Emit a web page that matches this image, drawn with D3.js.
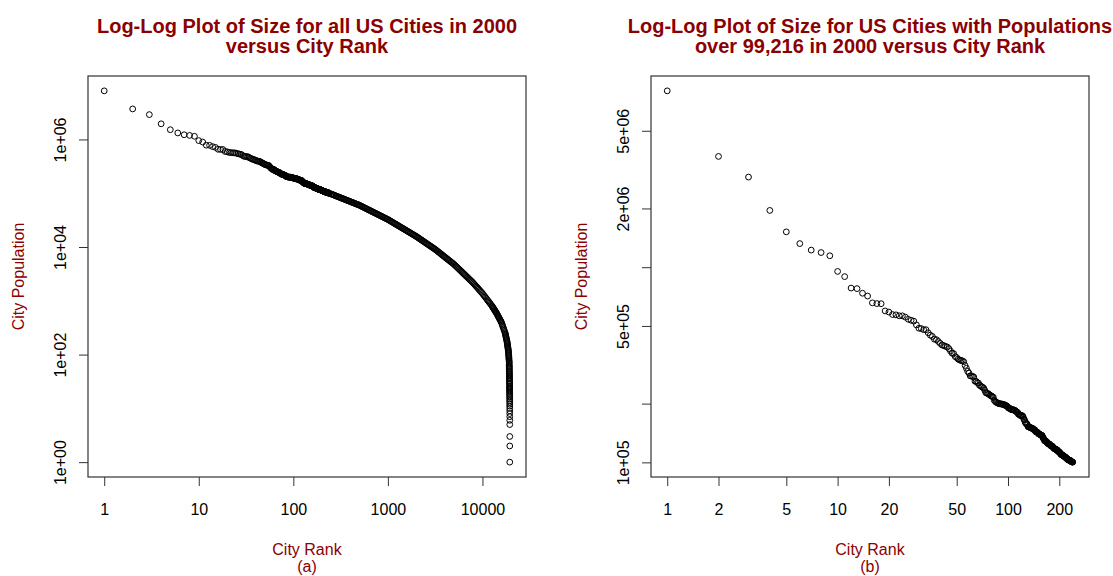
<!DOCTYPE html>
<html>
<head>
<meta charset="utf-8">
<script src="https://cdn.jsdelivr.net/npm/d3@7"></script>
<style>
  body { margin: 0; background: #fff; }
  svg text { font-family: "Liberation Sans", Arial, sans-serif; }
</style>
</head>
<body>
<div id="chart"></div>
<script>
(function () {

  // populations of the largest US cities in 2000, biggest first (rank = position + 1)
  const topCityPops = [
    8008278, 3694820, 2896016, 1953631, 1517550, 1321045, 1223400, 1188580, 1144646, 951270,
    894943, 781870, 776733, 735617, 711470, 656562, 651154, 650100, 596974, 589141,
    572059, 569891, 563662, 563374, 554636, 540828, 534694, 529121, 506132, 486699,
    484674, 478434, 478403, 461522, 448607, 441545, 427652, 425257, 416474, 407018,
    399484, 396375, 393049, 390007, 382618, 371657, 362470, 360890, 348189, 344284,
    337977, 334563, 332969, 331285, 328014, 313619, 303447, 292648, 287151, 277454,
    276393, 276093, 273546, 260512, 260283, 256231, 255166, 248232, 247057, 243771,
    242820, 240055, 234403, 227818, 226419, 225581, 223891, 222030, 219773, 218812,
    217074, 215768, 208054, 205727, 203413, 202705, 201568, 200145, 199775, 199564,
    199184, 198915, 198682, 197800, 197790, 196086, 195629, 194973, 193556, 191615,
    189594, 189453, 188856, 187035, 186291, 185951, 185787, 185776, 185401, 184256,
    183133, 181743, 180480, 180150, 176581, 176576, 175381, 173890, 173627, 173618,
    173556, 172648, 170358, 166179, 165196, 161029, 158625, 158216, 158007, 155554,
    152397, 152082, 151580, 151088, 151060, 150624, 150115, 149473, 149222, 149080,
    147595, 147306, 146866, 146437, 144126, 143560, 143072, 142990, 142381, 141674,
    140030, 139722, 139529, 139357, 138247, 137946, 137893, 137427, 136924, 133936,
    133559, 131760, 131510, 128929, 128821, 128358, 128283, 127743, 127427, 126003,
    124966, 124943, 124523, 124471, 123975, 123626, 122377, 121780, 121582, 121578,
    121015, 120758, 120568, 119128, 118718, 118652, 117549, 117083, 117005, 116760,
    116670, 116278, 115965, 115930, 115488, 114024, 113866, 113726, 113288, 112936,
    112580, 111454, 111351, 110257, 109697, 109576, 109569, 108896, 108787, 108724,
    108364, 107789, 107323, 107271, 107006, 106632, 106414, 106221, 105167, 105166,
    105080, 104197, 103717, 103621, 103455, 103298, 102746, 102743, 102361, 102313,
    102286, 102153, 102121, 101355, 100940, 100916, 100565, 100545, 100316, 100266
  ];

  // smaller cities: ranks and populations read along the curve of plot (a)
  const tailRanks = [
    251, 263, 275, 288, 302, 316, 331, 347, 363, 380, 398, 417, 437, 457, 479, 501,
    525, 550, 575, 603, 631, 661, 692, 724, 759, 794, 832, 871, 912, 955, 1000,
    1047, 1096, 1148, 1202, 1259, 1318, 1380, 1445, 1514, 1585, 1660, 1738, 1820, 1905, 1995,
    2089, 2188, 2291, 2399, 2512, 2630, 2754, 2884, 3020, 3162,
    3311, 3467, 3631, 3802, 3981, 4169, 4365, 4571, 4786, 5012,
    5248, 5495, 5754, 6026, 6310, 6607, 6918, 7244, 7586, 7943,
    8318, 8710, 9120, 9550, 10000, 10471, 10965, 11482, 12023, 12589,
    12882, 13183, 13490, 13804, 14125, 14454, 14791, 15136, 15488, 15849,
    16032, 16218, 16406, 16596, 16788, 16982, 17179, 17378,
    17478, 17579, 17680, 17783, 17886, 17989, 18093, 18197,
    18260, 18323, 18386, 18450, 18514, 18578, 18642, 18707, 18771, 18836,
    18871, 18906, 18941, 18976, 19011, 19046, 19081, 19116, 19151, 19187,
    19196, 19205, 19214, 19222, 19231, 19240, 19249, 19258, 19267, 19275,
    19284, 19293, 19302, 19311, 19320, 19329, 19337, 19346, 19355, 19364,
    19368, 19372, 19376, 19380, 19384, 19388, 19392, 19396, 19400, 19404,
    19408, 19412, 19416, 19420, 19424, 19428, 19432, 19436, 19440, 19444,
    19448, 19451, 19454, 19456, 19457, 19458
  ];
  const tailPops = [
    96800, 93800, 90800, 87900, 85100, 82400, 79800, 77300, 74800, 72400, 70100, 67900, 65800, 63700, 61700, 59700,
    57340, 55060, 52870, 50770, 48750, 46810, 44950, 43160, 41450, 39810, 38220, 36710, 35250, 33850, 32510,
    30970, 29510, 28120, 26790, 25530, 24320, 23170, 22080, 21040, 20040, 19100, 18200, 17340, 16520, 15740,
    14890, 14090, 13340, 12620, 11940, 11300, 10690, 10120, 9570, 9060,
    8490, 7960, 7460, 7000, 6560, 6150, 5770, 5410, 5070, 4750,
    4400, 4060, 3760, 3480, 3210, 2970, 2750, 2540, 2350, 2170,
    1980, 1810, 1650, 1500, 1370, 1230, 1110, 998, 897, 807,
    757, 710, 665, 624, 585, 542, 502, 466, 432, 400,
    378, 356, 337, 318, 300, 283, 267, 252,
    241, 230, 220, 210, 200, 191, 183, 175,
    167, 161, 154, 148, 142, 136, 131, 125, 120, 115,
    110, 105, 100, 96, 92, 87, 84, 80, 76, 73,
    70, 66, 63, 60, 58, 55, 53, 50, 48, 46,
    44, 42, 40, 38, 36, 35, 33, 32, 30, 29,
    28, 26, 25, 24, 23, 22, 21, 20, 19, 18,
    17, 16, 15, 14, 13, 12, 11, 10, 9, 8,
    7, 6, 5, 3, 2, 1
  ];

  // more readings taken between the ones above, where the band is packed tight
  const midRanks = [
    257, 269, 282, 295, 309, 324, 339, 355, 372, 389, 407, 427, 447, 468, 490,
    513, 537, 562, 589, 617, 646, 676, 708, 741, 776, 813, 851, 891, 933, 977,
    1023, 1072, 1122, 1175, 1230, 1288, 1349, 1413, 1479, 1549, 1622, 1698, 1778, 1862, 1950,
    2042, 2138, 2239, 2344, 2455, 2570, 2692, 2818, 2951, 3090,
    3236, 3388, 3548, 3715, 3890, 4074, 4266, 4467, 4677, 4898,
    5129, 5370, 5623, 5888, 6166, 6457, 6761, 7079, 7413, 7762,
    8128, 8511, 8913, 9333, 9772, 10233, 10715, 11220, 11749, 12303,
    12735, 13032, 13335, 13646, 13964, 14289, 14622, 14962, 15311, 15668
  ];
  const midPops = [
    95300, 92300, 89300, 86500, 83800, 81100, 78500, 76000, 73600, 71300, 69000, 66800, 64700, 62700, 60700,
    58500, 56200, 53950, 51810, 49750, 47770, 45870, 44060, 42310, 40630, 39010, 37460, 35970, 34540, 33170,
    31740, 30240, 28810, 27450, 26150, 24920, 23740, 22620, 21550, 20540, 19570, 18640, 17760, 16920, 16130,
    15310, 14490, 13710, 12970, 12270, 11610, 10990, 10400, 9840, 9310,
    8770, 8220, 7710, 7230, 6780, 6350, 5960, 5580, 5240, 4910,
    4570, 4230, 3910, 3610, 3340, 3090, 2860, 2640, 2440, 2260,
    2070, 1890, 1730, 1570, 1440, 1300, 1170, 1050, 946, 851,
    782, 733, 687, 644, 604, 563, 522, 484, 448, 415
  ];

  // tick values and labels
  const xTicksA = [1, 10, 100, 1000, 10000];
  const xLabelsA = ['1', '10', '100', '1000', '10000'];
  const yTicksA = [1, 100, 10000, 1000000];
  const yLabelsA = ['1e+00', '1e+02', '1e+04', '1e+06'];
  const xTicksB = [1, 2, 5, 10, 20, 50, 100, 200];
  const xLabelsB = ['1', '2', '5', '10', '20', '50', '100', '200'];
  const yTicksB = [100000, 200000, 500000, 1000000, 2000000, 5000000];
  const yLabelsB = ['1e+05', '', '5e+05', '', '2e+06', '5e+06'];

  const titleA = ['Log-Log Plot of Size for all US Cities in 2000', 'versus City Rank'];
  const titleB = ['Log-Log Plot of Size for US Cities with Populations', 'over 99,216 in 2000 versus City Rank'];

  //layout
  const width = 1113, height = 576;
  const plotTop = 76, plotBottom = 477, plotW = 438;
  const red = '#8B0000';

  let svg = d3.select('#chart')
    .append('svg')
    .attr('width', width)
    .attr('height', height);

  //R pads each axis by 4% (here in log space)
  function padLog(lo, hi) {
    let a = Math.log10(lo), b = Math.log10(hi), d = (b - a) * 0.04;
    return [Math.pow(10, a - d), Math.pow(10, b + d)];
  }

  function drawPanel(p) {
    let maxRank = d3.max(p.points, d => d.rank);
    let x = d3.scaleLog()
      .domain(padLog(1, maxRank))
      .range([p.left, p.left + plotW]);
    let y = d3.scaleLog()
      .domain(padLog(d3.min(p.points, d => d.pop), d3.max(p.points, d => d.pop)))
      .range([plotBottom, plotTop]);

    let cx = p.left + plotW / 2;

    // x axis
    svg.append('g')
      .attr('transform', `translate(0, ${plotBottom})`)
      .attr('font-size', null)
      .attr('font-family', null)
      .style('color', '#333')
      .call(d3.axisBottom(x).tickValues(p.xTicks).tickFormat((d, i) => p.xLabels[i]).tickSize(9))
      .call(g => g.select('.domain').remove())
      .call(g => g.selectAll('text')
        .attr('y', 38)
        .attr('dy', null)
        .attr('font-size', 16)
        .attr('fill', '#000'));

    // y axis, labels turned like R does
    svg.append('g')
      .attr('transform', `translate(${p.left}, 0)`)
      .attr('font-size', null)
      .attr('font-family', null)
      .style('color', '#333')
      .call(d3.axisLeft(y).tickValues(p.yTicks).tickFormat((d, i) => p.yLabels[i]).tickSize(9))
      .call(g => g.select('.domain').remove())
      .call(g => g.selectAll('text')
        .attr('x', 0)
        .attr('dy', null)
        .attr('text-anchor', 'middle')
        .attr('transform', 'translate(-22, 0) rotate(-90)')
        .attr('font-size', 16)
        .attr('fill', '#000'));

    // box
    svg.append('rect')
      .attr('x', p.left)
      .attr('y', plotTop)
      .attr('width', plotW)
      .attr('height', plotBottom - plotTop)
      .attr('fill', 'none')
      .attr('stroke', '#333')
      .attr('stroke-width', 1.2);

    // points
    svg.append('g')
      .selectAll('circle')
      .data(p.points)
      .join('circle')
      .attr('cx', d => x(d.rank))
      .attr('cy', d => y(d.pop))
      .attr('r', 2.9)
      .attr('fill', 'none')
      .attr('stroke', '#000')
      .attr('stroke-width', 1);

    // titles
    svg.append('g')
      .selectAll('text')
      .data(p.title)
      .join('text')
      .attr('x', cx)
      .attr('y', (d, i) => 33 + i * 20)
      .attr('text-anchor', 'middle')
      .attr('font-size', 20)
      .attr('font-weight', 'bold')
      .attr('fill', red)
      .text(d => d);

    svg.append('text')
      .attr('x', cx)
      .attr('y', 555)
      .attr('text-anchor', 'middle')
      .attr('font-size', 16)
      .attr('fill', red)
      .text('City Rank');

    svg.append('text')
      .attr('x', cx)
      .attr('y', 572)
      .attr('text-anchor', 'middle')
      .attr('font-size', 16)
      .attr('fill', red)
      .text(p.sub);

    svg.append('text')
      .attr('transform', `translate(${p.left - 64}, ${(plotTop + plotBottom) / 2}) rotate(-90)`)
      .attr('text-anchor', 'middle')
      .attr('font-size', 16)
      .attr('fill', red)
      .text('City Population');
  }

  let topPoints = topCityPops.map((pop, i) => ({ rank: i + 1, pop }));
  let tailPoints = tailRanks.map((rank, i) => ({ rank, pop: tailPops[i] }));
  let midPoints = midRanks.map((rank, i) => ({ rank, pop: midPops[i] }));

  drawPanel({
    left: 88,
    points: topPoints.concat(midPoints, tailPoints),
    xTicks: xTicksA, xLabels: xLabelsA,
    yTicks: yTicksA, yLabels: yLabelsA,
    title: titleA, sub: '(a)'
  });

  drawPanel({
    left: 651,
    points: topPoints,
    xTicks: xTicksB, xLabels: xLabelsB,
    yTicks: yTicksB, yLabels: yLabelsB,
    title: titleB, sub: '(b)'
  });

})();
</script>
</body>
</html>
